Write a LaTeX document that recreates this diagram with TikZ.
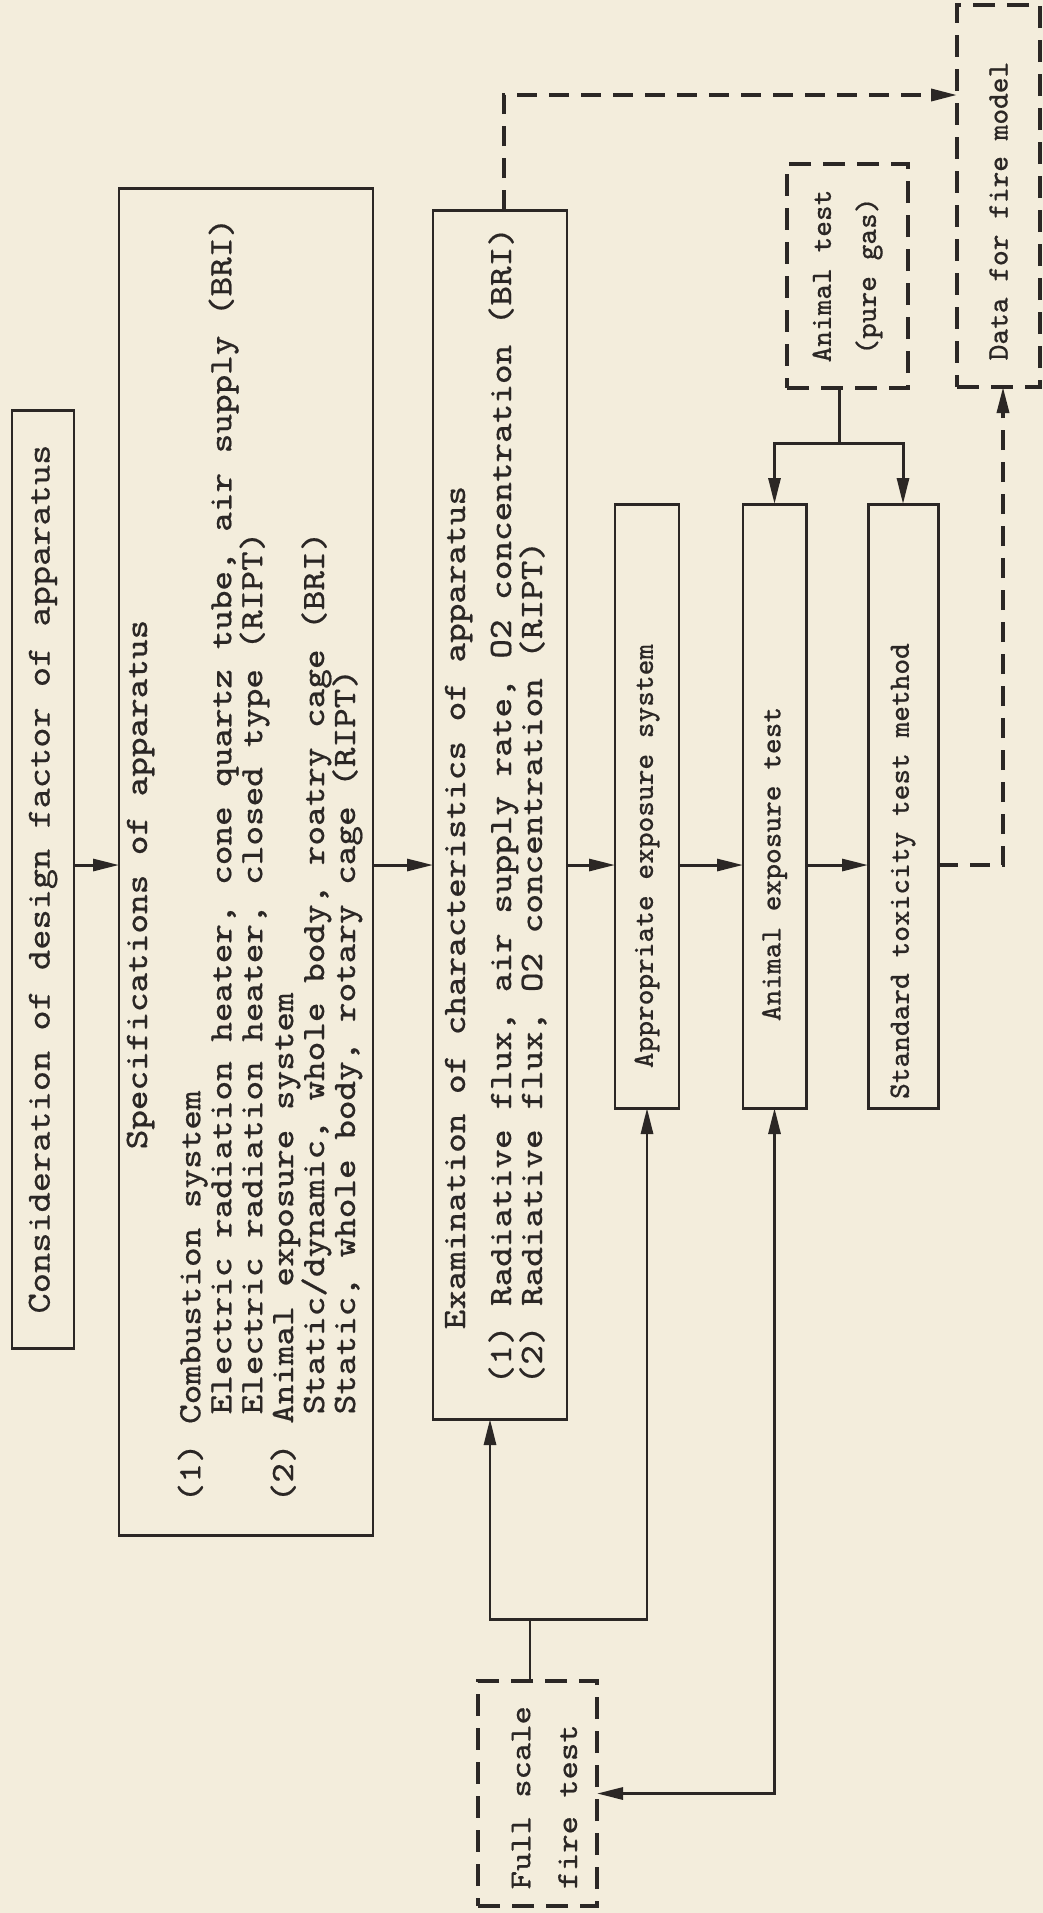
\documentclass[tikz,border=0pt]{standalone}
\usepackage{fontspec}
\newfontfamily\typewr{Latin Modern Mono}[FakeBold=0.5,FakeStretch=1.143]
\newfontfamily\typelbl{Latin Modern Mono}[FakeBold=0.5]
\usepackage{xcolor}
\usepackage{tikz}
\usetikzlibrary{arrows.meta,positioning,calc}
\definecolor{paper}{HTML}{F3EDDC}
\definecolor{ink}{HTML}{2B2725}
\newcommand{\specfont}{\typewr\fontsize{9.3}{8.8}\selectfont\lineskiplimit=-20pt}
\newcommand{\consfont}{\typewr\fontsize{9.58}{12}\selectfont}
\newcommand{\labelfont}{\typelbl\fontsize{8.42}{12.8}\selectfont}
\newcommand{\fullfont}{\typewr\fontsize{8.69}{13.3}\selectfont}
\newcommand{\ind}{\hspace*{0.88cm}}
\tikzset{
  stepbox/.style={
    rectangle, draw=ink, line width=0.85pt,
    inner sep=0pt, outer sep=0pt
  },
  dashbox/.style={
    stepbox, line width=1.1pt, dash pattern=on 2.2mm off 1.2mm
  },
  vlabel/.style={
    rotate=90, font=\specfont, text=ink,
    inner sep=0pt, align=left
  },
  flowline/.style={draw=ink, line width=0.85pt},
  flowarrow/.style={
    flowline, -{Triangle[length=2.6mm,width=1.2mm]}
  },
  biarrow/.style={
    flowline, {Triangle[length=2.6mm,width=1.2mm]}-{Triangle[length=2.6mm,width=1.2mm]}
  },
  dasharrow/.style={
    flowarrow, line width=1pt, dash pattern=on 2mm off 1.2mm
  },
}
\begin{document}
\begin{tikzpicture}

\fill[paper] (0,0) rectangle (10.43,-19.13);
\useasboundingbox (0,0) rectangle (10.43,-19.13);

% Main flow boxes
\node[stepbox, minimum width=0.62cm, minimum height=9.38cm] (cons) at (0.43,-8.79) {};
\node[stepbox, minimum width=2.54cm, minimum height=13.47cm] (spec) at (2.46,-8.615) {};
\node[stepbox, minimum width=1.34cm, minimum height=12.09cm] (exam) at (5.00,-8.145) {};
\node[stepbox, minimum width=0.64cm, minimum height=6.04cm] (appr) at (6.47,-8.06) {};
\node[stepbox, minimum width=0.63cm, minimum height=6.04cm] (aexp) at (7.745,-8.06) {};
\node[stepbox, minimum width=0.70cm, minimum height=6.04cm] (std) at (9.03,-8.06) {};

% Dashed boxes
\node[dashbox, minimum width=1.21cm, minimum height=2.24cm] (gas) at (8.475,-2.76) {};
\node[dashbox, minimum width=0.83cm, minimum height=3.82cm] (data) at (9.985,-1.96) {};
\node[dashbox, minimum width=1.19cm, minimum height=2.25cm] (full) at (5.375,-17.935) {};

% Texts
\node[vlabel, font=\consfont] (constxt) at (cons) {Consideration of design factor of apparatus};
\node[vlabel, anchor=base west] (spechead) at (1.47,-11.50) {Specifications of apparatus};
\node[vlabel, anchor=base west] (specbody) at (3.55,-15.03)
  {(1) Combustion system\\
   \ind Electric radiation heater, cone quartz tube, air supply (BRI)\\
   \ind Electric radiation heater, closed type (RIPT)\\
   (2) Animal exposure system\\
   \ind Static/dynamic, whole body, roatry cage (BRI)\\
   \ind Static, whole body, rotary cage (RIPT)};
\node[vlabel, anchor=base west] (examhead) at (4.65,-13.30)
  {Examination of characteristics of apparatus};
\node[vlabel, anchor=base west] (exambody) at (5.42,-13.85)
  {(1) Radiative flux, air supply rate, O2 concentration (BRI)\\
   (2) Radiative flux, O2 concentration (RIPT)};
\node[vlabel, font=\labelfont] (apprtxt) at (appr.center |- 0,-8.56) {Appropriate exposure system};
\node[vlabel, font=\labelfont] (aexptxt) at (aexp.center |- 0,-8.64) {Animal exposure test};
\node[vlabel, font=\labelfont] (stdtxt) at (std.center |- 0,-8.71) {Standard toxicity test method};
\node[vlabel, font=\labelfont, align=center] (gastxt) at (gas) {Animal test\\(pure gas)};
\node[vlabel, font=\labelfont] (datatxt) at (data.center |- 0,-2.11) {Data for fire model};
\node[vlabel, font=\fullfont, anchor=base west] (fulltxt) at (5.77,-18.90) {Full scale\\fire test};

% Horizontal flow
\coordinate (flowy) at (0,-8.65);
\draw[flowarrow] (cons.east |- flowy) -- (spec.west |- flowy);
\draw[flowarrow] (spec.east |- flowy) -- (exam.west |- flowy);
\draw[flowarrow] (exam.east |- flowy) -- (appr.west |- flowy);
\draw[flowarrow] (appr.east |- flowy) -- (aexp.west |- flowy);
\draw[flowarrow] (aexp.east |- flowy) -- (std.west |- flowy);

% Dashed links to the fire model
\coordinate (dtop) at (5.04,-0.95);
\coordinate (dbot) at (10.03,-8.65);
\draw[dasharrow] (exam.north -| dtop) |- (data.west |- dtop);
\draw[dasharrow] (std.east |- flowy) -| (data.south -| dbot);

% Pure gas test feeding two boxes
\coordinate (gsplit) at (8.39,-4.43);
\draw[flowline] (gas.south -| gsplit) -- (gsplit);
\draw[flowarrow] (gsplit) -| (aexp.north);
\draw[flowarrow] (gsplit) -| (std.north);

% Full scale fire test links
\coordinate (fsplit) at (5.30,-16.19);
\coordinate (ein) at (4.90,-16.19);
\draw[flowline] (full.north -| fsplit) -- (fsplit);
\draw[flowarrow] (fsplit) -| (exam.south -| ein);
\draw[flowarrow] (fsplit) -| (appr.south);
\draw[biarrow] (aexp.south) |- (full.east);

\end{tikzpicture}
\end{document}
